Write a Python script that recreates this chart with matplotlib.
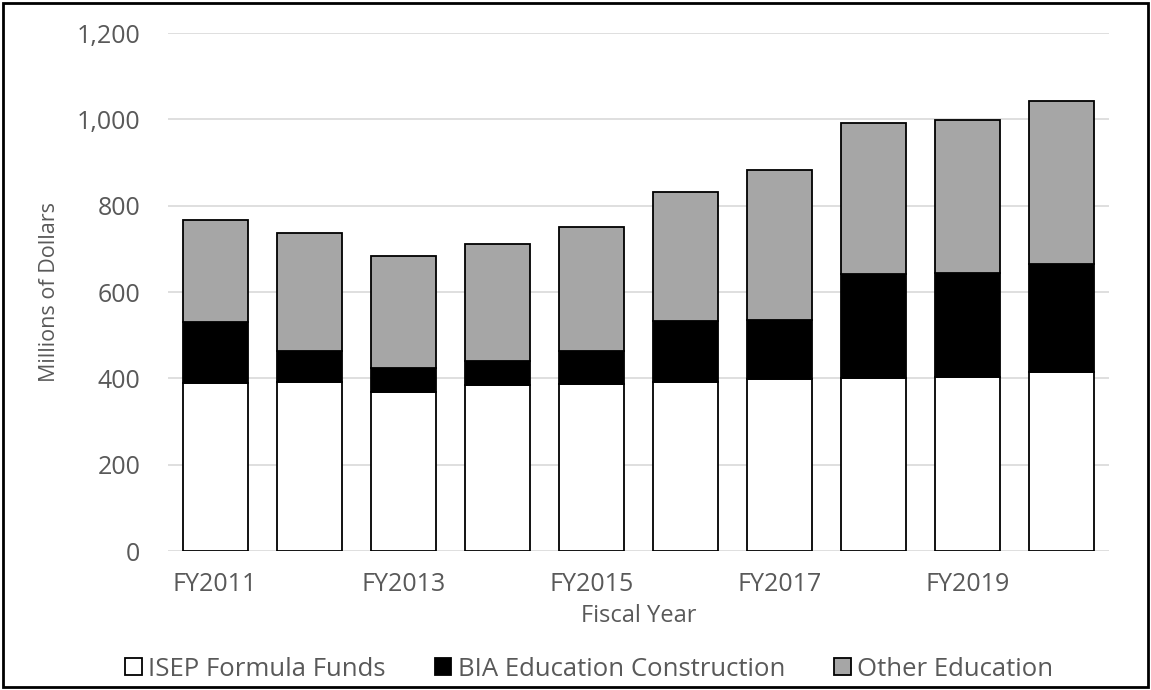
import matplotlib.pyplot as plt
from matplotlib.patches import Rectangle
import numpy as np

years = ["FY2011", "FY2012", "FY2013", "FY2014", "FY2015",
         "FY2016", "FY2017", "FY2018", "FY2019", "FY2020"]
isep = [390, 391, 369, 385, 388, 391, 399, 401, 404, 415]
construction = [141, 72, 55, 56, 75, 141, 136, 240, 240, 250]
other = [236, 274, 259, 271, 287, 299, 348, 350, 355, 378]

FONT = "Open Sans"
TEXT = "#595959"

fig = plt.figure(figsize=(11.51, 6.9), dpi=100)
ax = fig.add_axes([0.146, 0.2014, 0.8175, 0.7506])

x = np.arange(len(years))
isep = np.array(isep)
construction = np.array(construction)
other = np.array(other)

w = 0.69
ax.bar(x, isep, w, color="white", edgecolor="black", linewidth=1.3,
       label="ISEP Formula Funds", zorder=3)
ax.bar(x, construction, w, bottom=isep, color="black", edgecolor="black",
       linewidth=1.3, label="BIA Education Construction", zorder=3)
ax.bar(x, other, w, bottom=isep + construction, color="#A6A6A6",
       edgecolor="black", linewidth=1.3, label="Other Education", zorder=3)

ax.set_xlim(-0.5, len(years) - 0.5)
ax.set_ylim(0, 1200)
ax.set_yticks(range(0, 1201, 200))
ax.set_yticklabels([f"{v:,}" for v in range(0, 1201, 200)],
                   fontfamily=FONT, fontsize=18, color=TEXT)
ax.set_xticks(x[::2])
ax.set_xticklabels(years[::2], fontfamily=FONT, fontsize=18, color=TEXT)
ax.tick_params(axis="both", length=0)
ax.tick_params(axis="y", pad=20)
ax.tick_params(axis="x", pad=15)
ax.grid(axis="y", color="#D9D9D9", linewidth=1.2, zorder=0)
for s in ax.spines.values():
    s.set_visible(False)

ax.set_xlabel("Fiscal Year", fontfamily=FONT, fontsize=17, color=TEXT, labelpad=5)
ax.set_ylabel("Millions of Dollars", fontfamily=FONT, fontsize=15.5, color=TEXT,
              labelpad=12)

leg = fig.legend(loc="center", bbox_to_anchor=(0.512, 0.030), ncol=3, frameon=False,
                 prop={"family": FONT, "size": 18.5}, handlelength=0.65,
                 handleheight=0.65, handletextpad=0.25, columnspacing=1.9)
for t in leg.get_texts():
    t.set_color(TEXT)

fig.patches.append(Rectangle((0.003, 0.004), 0.994, 0.992, transform=fig.transFigure,
                             fill=False, edgecolor="black", linewidth=2))

fig.savefig("out.png", dpi=100)
